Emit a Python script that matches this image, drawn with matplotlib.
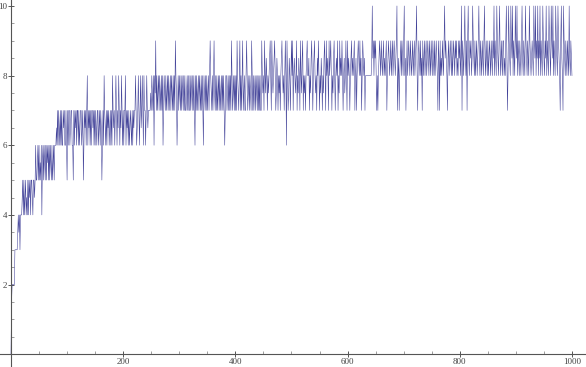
import numpy as np
import matplotlib.pyplot as plt
from matplotlib.ticker import MultipleLocator, FixedLocator

# values, one character per step, coded as 2*value in base 21
# ('0'..'9' -> 0..4.5, 'a' -> 5, 'c' -> 6, 'e' -> 7, 'g' -> 8, 'i' -> 9, 'k' -> 10)
early = [
    "0344444666", "6678786888", "9a8a89a898", "a8a9a8aa98", "aa9acaabca",
    "cabac8bcac", "bacacbcaca", "cbacabcacc", "cdcecedcec", "eccedeccec",
    "aeceecdeec", "caecedecee", "cecdeecdea", "cedecegced", "ececeedece",
    "cedceecdec", "edacecgedc", "ecedecdece", "cgedecegec", "edgecedgec",
    "eceegcedec", "ecdedceced", "eegecdegec", "egdegecgee", "cegedeeeef",
]
middle = [
    "egfegcgfie", "gefgegfege", "gcegfegefg", "egefgegfeg", "egeigfcege",
    "gfegegfege", "geefgegeeg", "egfegegecg", "egefgegfeg", "egecgfegeg",
    "efgegigfeg", "egifegegef", "gegefgegeg", "eceggefgeg", "egeigefgeg",
    "egeigfegie", "gegiefgeeg", "igefgegfei", "gegefgegfe", "gegegeeigf",
    "geigfhgegf", "ghigeigfgh", "igefhgegfg", "eghigfgegi", "gcigefhgeg",
    "igieghgfgi", "egfhgeigfh", "iegfgeghig", "ghegfhigeg", "higfgehgig",
    "egfhgegfhi", "geighgeigh", "igegfhigeg", "hgiegfighg", "igeghfgige",
    "ighgeghigh", "ghiegheghi", "hgighegihg", "hegggggggg",
]
late = [
    "ggghkhigih", "igegeghihg", "ihghighghi", "eghihghigh", "ighihghike",
    "gheghigihg", "ikghegighi", "hgihghighi", "ghikgehihg", "igheighigh",
    "ighihgihgi", "hgihgighih", "geiheighgi", "hgikhihgeh", "ighihgighi",
    "hgihighgih", "ighkeihgik", "hgieikhgih", "ighkihgigh", "ighikhgihg",
    "ihgikhgihg", "ighihgihgi", "hkgihgkihg", "ikhgihgiig", "hgikhegkih",
    "gkihkgihgk", "ihkgihgihg", "ikhgihgkih", "gihgkihghi", "hgkihkgihk",
    "gihkgihgki", "hgihkgihgk", "ihgkihkgih", "gkihgkihge", "ikhgekihgi",
    "hgihgkhgih", "g",
]

x_major = [200, 400, 600, 800, 1000]
y_major = [2, 4, 6, 8, 10]

codes = "".join(early + middle + late)
values = np.array([int(c, 21) for c in codes]) / 2
steps = np.arange(len(values))

fig = plt.figure(figsize=(5.86, 3.67), dpi=100)
ax = fig.add_axes([0, 0, 1, 1])

ax.plot(steps, values, color=(0.26, 0.26, 0.6), linewidth=0.38)

ax.set_xlim(-19.6, 1025)
ax.set_ylim(-0.365, 10.17)

for side in ["top", "right"]:
    ax.spines[side].set_visible(False)
ax.spines["left"].set_position(("data", 0))
ax.spines["bottom"].set_position(("data", 0))
for side in ["left", "bottom"]:
    ax.spines[side].set_color("#555555")
    ax.spines[side].set_linewidth(0.8)

ax.xaxis.set_major_locator(FixedLocator(x_major))
ax.yaxis.set_major_locator(FixedLocator(y_major))
ax.xaxis.set_minor_locator(MultipleLocator(50))
ax.yaxis.set_minor_locator(MultipleLocator(0.5))

ax.tick_params(which="major", direction="inout", length=4, width=0.7,
               color="#555555", labelsize=6.5, labelcolor="#444444", pad=0.5)
ax.tick_params(which="minor", direction="in", length=2, width=0.5, color="#777777")
for lab in ax.get_xticklabels() + ax.get_yticklabels():
    lab.set_family("Liberation Serif")

fig.savefig("out.png", dpi=100)
